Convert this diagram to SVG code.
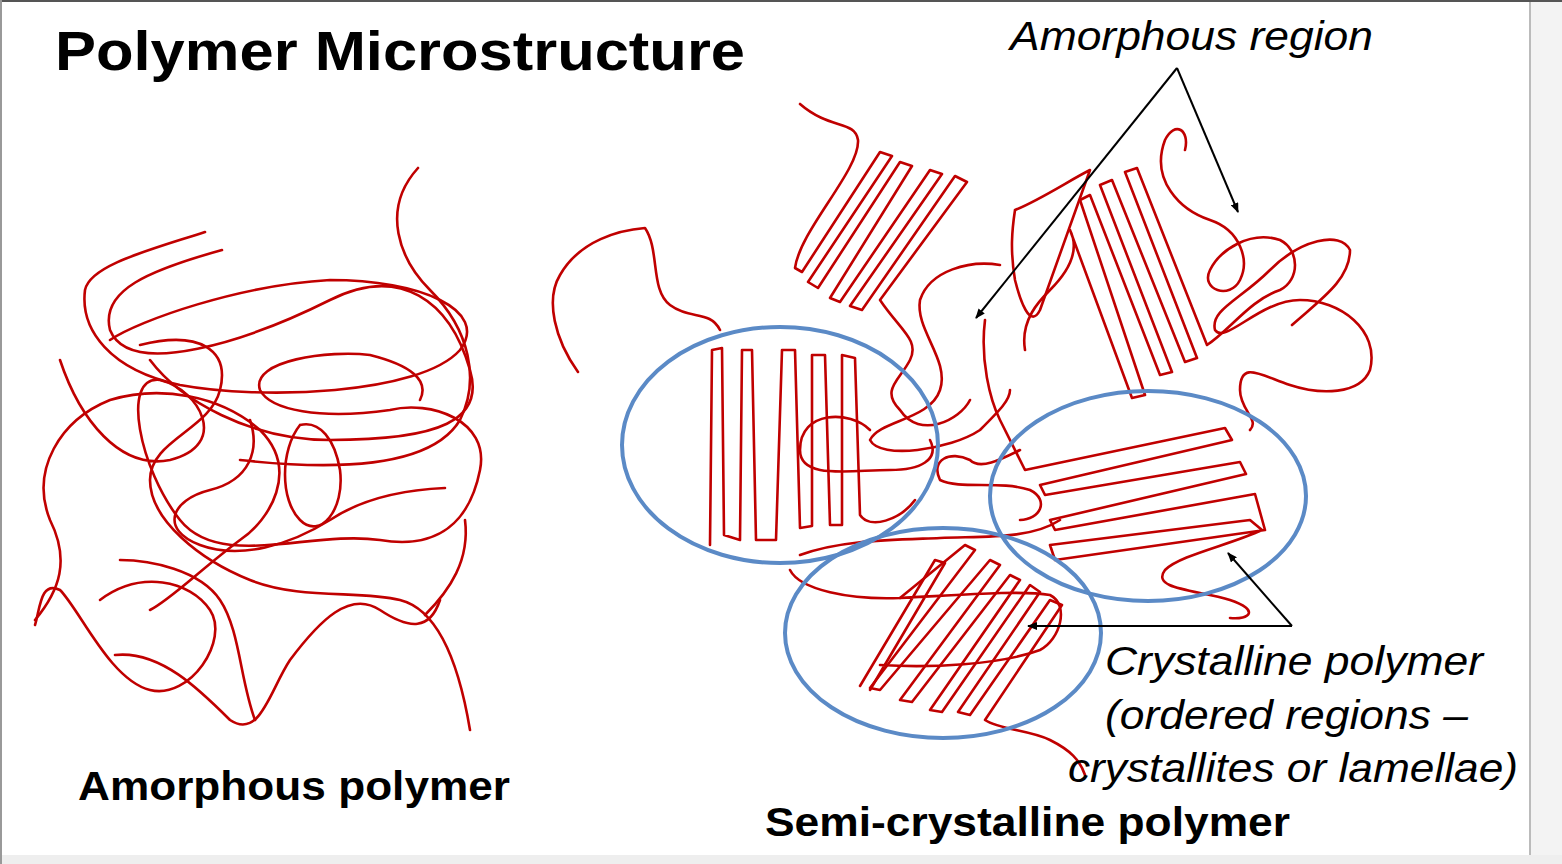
<svg xmlns="http://www.w3.org/2000/svg" width="1562" height="864" viewBox="0 0 1562 864">
<style>
.r{fill:none;stroke:#c00000;stroke-width:2.6;stroke-linecap:round;stroke-linejoin:round}
.b{fill:none;stroke:#5b8ac6;stroke-width:4}
.a{fill:none;stroke:#000;stroke-width:2}
.t{font-family:"Liberation Sans",Arial,sans-serif;fill:#000}
</style>
<defs><marker id="ah" markerWidth="10" markerHeight="8" refX="9" refY="4" orient="auto" markerUnits="userSpaceOnUse"><path d="M0,0 L10,4 L0,8 z" fill="#000"/></marker></defs>
<rect width="1562" height="864" fill="#fff"/>
<rect x="1530" y="0" width="32" height="864" fill="#f3f3f3"/>
<line x1="1530" y1="0" x2="1530" y2="864" stroke="#bbb" stroke-width="2"/>
<rect x="0" y="855" width="1562" height="9" fill="#eee"/>
<line x1="0" y1="1" x2="1562" y2="1" stroke="#555" stroke-width="2"/>
<line x1="1" y1="0" x2="1" y2="864" stroke="#999" stroke-width="2"/>

<g id="title"><text class="t" x="55" y="70" font-size="56" font-weight="bold" textLength="690" lengthAdjust="spacingAndGlyphs">Polymer Microstructure</text></g>

<g id="amorphous">
<path class="r" d="M205,232 C150,250 90,265 85,290 C80,330 110,370 180,385 C260,400 420,395 460,350 C490,310 420,280 330,280 C240,285 140,320 110,340"/>
<path class="r" d="M222,250 C150,270 100,290 110,330 C130,380 250,340 330,300 C400,265 450,300 470,370 C485,420 440,440 330,440 C250,440 180,400 150,360"/>
<path class="r" d="M418,168 C380,210 400,260 430,290 C470,330 480,380 460,420 C430,470 330,470 240,460"/>
<path class="r" d="M60,360 C80,420 120,470 170,460 C230,445 200,390 160,380 C120,375 140,470 180,520 C220,570 310,530 380,540 C440,550 470,520 480,470 C490,420 430,400 390,410 C320,420 270,410 260,390 C250,360 330,350 370,355 C410,365 430,380 420,400"/>
<path class="r" d="M35,620 C60,590 70,560 50,520 C30,470 60,420 110,400 C160,385 220,395 260,430 C300,470 270,520 240,540 C200,570 170,600 150,610"/>
<path class="r" d="M140,345 C200,330 230,350 220,390 C210,430 150,440 150,480 C150,520 200,560 250,580 C300,600 360,590 400,600 C440,610 460,670 470,730"/>
<path class="r" d="M115,655 C160,650 200,690 230,720 C260,740 270,690 290,660 C320,620 350,590 380,610 C410,630 430,630 440,600"/>
<path class="r" d="M100,600 C140,570 190,580 210,610 C230,640 190,700 150,690 C110,680 80,610 60,590 C40,580 40,610 35,625"/>
<path class="r" d="M300,425 C280,450 280,500 300,520 C320,540 345,510 340,470 C335,440 320,420 300,425"/>
<path class="r" d="M445,488 C400,490 360,500 330,520 C290,545 240,560 200,545 C160,530 170,500 210,490 C250,480 260,450 250,420"/>
<path class="r" d="M255,720 C240,680 240,630 220,600 C200,570 150,560 120,560"/>
<path class="r" d="M425,615 C450,590 470,560 465,520"/>
</g>

<g id="semi">
<path class="r" d="M578,372 C555,340 545,300 560,275 C580,240 620,230 645,228 C660,250 650,290 670,305 C690,320 710,310 720,330"/>
<path class="r" d="M710,545 L712,350 L722,348 L724,535 L740,540 L742,350 L752,350 L756,540 L776,540 L782,350 L795,350 L800,528 L812,526 L812,355 L825,355 L830,525 L842,525 L842,355 L855,358 L860,515 C870,530 900,520 915,500"/>
<path class="r" d="M800,104 C830,130 855,120 858,140 C860,170 800,230 795,268 L802,272 L880,152 L892,156 L808,282 L818,288 L900,162 L912,166 L830,298 L840,302 L930,170 L942,174 L850,306 L862,310 L955,176 L967,182 L880,300 C900,330 920,340 910,360 C900,380 880,390 900,410 C920,440 960,420 970,400"/>
<path class="r" d="M1000,265 C970,260 930,270 920,300 C915,330 950,360 940,390 C930,420 880,420 870,440 C880,460 950,450 980,430 C1000,410 1010,400 1010,390"/>
<path class="r" d="M1025,350 C1020,320 1040,300 1050,290 C1070,270 1080,250 1070,230 L1132,398 L1145,395 L1080,200 L1090,195 L1160,375 L1172,372 L1100,185 L1112,180 L1185,362 L1197,358 L1125,172 L1137,168 L1207,345 C1230,330 1250,300 1280,290 C1300,280 1300,250 1280,240 C1250,230 1220,250 1210,270 C1200,290 1230,300 1240,280 C1250,260 1240,230 1210,220 C1180,210 1150,180 1165,140 C1175,120 1190,130 1185,150"/>
<path class="r" d="M1015,210 C1040,200 1070,180 1090,170 L1040,310 C1030,330 1020,300 1015,280 C1010,250 1012,230 1015,210"/>
<path class="r" d="M1292,325 C1320,300 1350,280 1350,250 C1340,230 1300,240 1270,270 C1240,300 1210,310 1215,330 C1225,345 1260,300 1300,300 C1340,300 1380,330 1370,370 C1360,395 1320,395 1290,385 C1260,375 1240,360 1240,390 C1240,410 1260,420 1250,430"/>
<path class="r" d="M985,320 C980,360 990,400 1000,420 C1010,440 1020,460 1025,470 L1225,428 L1232,440 L1040,485 L1045,495 L1240,462 L1246,474 L1050,520 L1055,530 L1255,494 L1265,530 L1055,560 L1050,545 L1250,520 L1262,530 C1230,545 1180,555 1165,570 C1150,590 1200,590 1230,600 C1260,610 1250,620 1230,618"/>
<path class="r" d="M1020,450 C1000,460 980,470 970,460 C950,450 930,460 940,480 C960,490 1000,480 1030,490 C1050,500 1040,520 1020,520"/>
<path class="r" d="M870,430 C850,410 800,410 800,450 C800,480 850,470 890,470 C920,470 940,460 930,440"/>
<path class="r" d="M800,555 C840,540 890,540 940,538 C980,536 1030,540 1060,520"/>
<path class="r" d="M790,570 C800,590 850,600 900,598 L965,545 L975,550 L870,688 L880,690 L990,560 L1000,565 L900,700 L912,702 L1010,575 L1020,580 L930,710 L942,712 L1030,585 L1040,592 L958,712 L970,715 L1050,600 L1062,605 L985,720 C1000,730 1030,730 1050,740 C1070,750 1080,760 1085,775"/>
<path class="r" d="M860,686 L935,560 L945,563 L870,690 M900,598 C960,595 1020,590 1050,595 C1070,605 1060,640 1040,650 C1000,665 930,668 880,665"/>
</g>

<g id="ellipses">
<ellipse class="b" cx="780" cy="445" rx="158" ry="118"/>
<ellipse class="b" cx="1148" cy="496" rx="158" ry="105"/>
<ellipse class="b" cx="943" cy="633" rx="158" ry="105"/>
</g>

<g id="connectors">
<line class="a" x1="1177" y1="68" x2="976" y2="318" marker-end="url(#ah)"/>
<line class="a" x1="1177" y1="68" x2="1238" y2="212" marker-end="url(#ah)"/>
<line class="a" x1="1292" y1="626" x2="1028" y2="626" marker-end="url(#ah)"/>
<line class="a" x1="1292" y1="626" x2="1228" y2="553" marker-end="url(#ah)"/>
</g>

<g id="labels">
<text class="t" x="1010" y="50" font-size="41" font-style="italic" textLength="363" lengthAdjust="spacingAndGlyphs">Amorphous region</text>
<text class="t" x="1105" y="675" font-size="41" font-style="italic" textLength="378" lengthAdjust="spacingAndGlyphs">Crystalline polymer</text>
<text class="t" x="1105" y="729" font-size="41" font-style="italic" textLength="363" lengthAdjust="spacingAndGlyphs">(ordered regions –</text>
<text class="t" x="1068" y="782" font-size="41" font-style="italic" textLength="450" lengthAdjust="spacingAndGlyphs">crystallites or lamellae)</text>
<text class="t" x="78" y="800" font-size="41" font-weight="bold" textLength="432" lengthAdjust="spacingAndGlyphs">Amorphous polymer</text>
<text class="t" x="765" y="836" font-size="41" font-weight="bold" textLength="525" lengthAdjust="spacingAndGlyphs">Semi-crystalline polymer</text>
</g>
</svg>
